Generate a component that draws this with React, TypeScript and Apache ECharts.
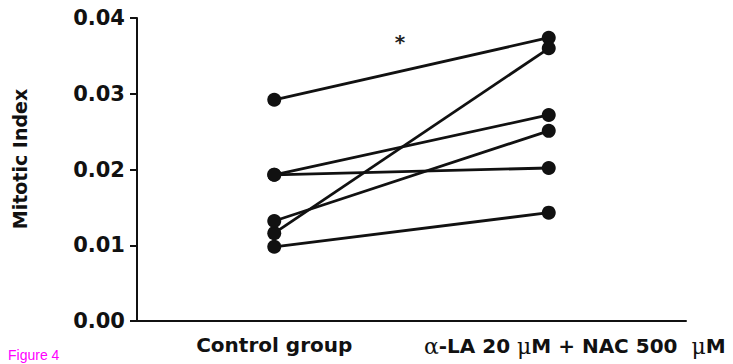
import React, { useEffect, useRef } from "react";
import * as echarts from "echarts";

const categories = ["Control group", "α-LA 20 μM + NAC 500  μM"];
const controlValues = [0.0292, 0.0116, 0.0193, 0.0193, 0.0132, 0.0098];
const treatedValues = [0.0374, 0.036, 0.0272, 0.0202, 0.0251, 0.0143];
const yTicks = [0, 0.01, 0.02, 0.03, 0.04];
const yAxisTitle = "Mitotic Index";
const significanceMark = "*";
const figureCaption = "Figure 4";

const BOLD = "'DejaVu Sans', sans-serif";
const INK = "#111111";

export default function App() {
  const ref = useRef<HTMLDivElement>(null);
  useEffect(() => {
    if (!ref.current) return;
    const chart = echarts.init(ref.current, null, { renderer: "svg" });
    const series = controlValues.map((c, i) => ({
      type: "line",
      data: [c, treatedValues[i]],
      symbol: "circle",
      symbolSize: 14,
      showSymbol: true,
      lineStyle: { color: INK, width: 2.8 },
      itemStyle: { color: INK },
      emphasis: { disabled: true },
      z: 3,
    }));
    chart.setOption({
      animation: false,
      backgroundColor: "#ffffff",
      grid: {
        left: 137,
        right: 47,
        top: 18,
        bottom: 43,
        containLabel: false,
        outerBoundsMode: "none",
      },
      xAxis: {
        type: "category",
        data: categories,
        boundaryGap: true,
        axisLine: { lineStyle: { color: INK, width: 2 } },
        axisTick: { alignWithLabel: true, length: 6, lineStyle: { color: INK, width: 2 } },
        axisLabel: {
          margin: 14,
          color: INK,
          fontFamily: BOLD,
          fontWeight: "bold",
          fontSize: 20,
          interval: 0,
          formatter: (v: string, idx: number) =>
            (idx === 1 ? "{pad|}" : "") +
            v.replace(/α/g, "{g|α}").replace(/μ/g, "{g|μ}"),
          rich: {
            g: {
              fontFamily: "'DejaVu Serif', 'Liberation Serif', serif",
              fontWeight: "normal",
              fontSize: 22,
              color: INK,
            },
            pad: { width: 52 },
          },
        },
        splitLine: { show: false },
      },
      yAxis: {
        type: "value",
        min: yTicks[0],
        max: yTicks[yTicks.length - 1],
        interval: yTicks[1] - yTicks[0],
        axisLine: { show: true, lineStyle: { color: INK, width: 2 } },
        axisTick: { show: true, length: 7, lineStyle: { color: INK, width: 2 } },
        axisLabel: {
          margin: 12,
          color: INK,
          fontFamily: BOLD,
          fontWeight: "bold",
          fontSize: 21,
          formatter: (v: number) => v.toFixed(2),
        },
        splitLine: { show: false },
      },
      graphic: [
        {
          type: "text",
          x: 20,
          y: 159,
          rotation: Math.PI / 2,
          style: {
            text: yAxisTitle,
            fill: INK,
            font: `bold 19px ${BOLD}`,
            align: "center",
            verticalAlign: "middle",
          },
        },
        {
          type: "text",
          x: 400,
          y: 42,
          style: {
            text: significanceMark,
            fill: "#222222",
            font: `bold 20px ${BOLD}`,
            align: "center",
            verticalAlign: "middle",
          },
        },
        {
          type: "text",
          x: 8,
          y: 348,
          style: {
            text: figureCaption,
            fill: "#ff00ff",
            font: "14px 'Liberation Sans', Arial, sans-serif",
            align: "left",
            verticalAlign: "top",
          },
        },
      ],
      series,
    });
    return () => chart.dispose();
  }, []);
  return (
    <div
      ref={ref}
      style={{ position: "fixed", left: 0, top: 0, width: 733, height: 364 }}
    />
  );
}
